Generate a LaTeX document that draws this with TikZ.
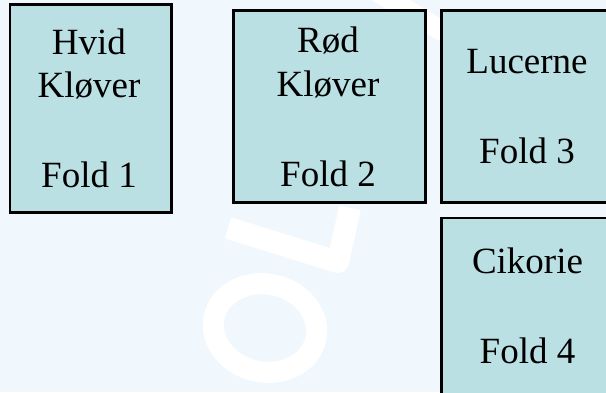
\documentclass[tikz,border=0pt]{standalone}
\usepackage{fontspec}
\setmainfont{Liberation Serif}
\definecolor{bgcol}{RGB}{240,248,253}
\definecolor{boxfill}{RGB}{187,224,227}
\tikzset{
  fieldbox/.style={draw=black, line width=2.6pt, fill=boxfill, rectangle, inner sep=0pt, anchor=north west},
  lbl/.style={anchor=base, inner sep=0pt, font=\fontsize{37}{44}\selectfont},
  wmark/.style={draw=white, line width=22pt, line cap=round, line join=round}
}
\begin{document}
\begin{tikzpicture}[x=1pt,y=-1pt]
\clip (0,0) rectangle (606,392);
\fill[bgcol] (0,0) rectangle (606,392);
% watermark
\draw[wmark, line width=21pt, rotate around={-12:(265,328)}] (265,328) ellipse [x radius=52, y radius=44];
\draw[wmark, line width=22pt, line cap=butt] (228,228) -- (338,262) -- (350,208);
\draw[wmark, line width=20pt] (378,-8) -- (440,30);
% boxes
\node[fieldbox, minimum width=161.5pt, minimum height=208pt] (b1) at (8.5,3) {};
\node[fieldbox, minimum width=192pt, minimum height=192pt] (b2) at (232,9) {};
\node[fieldbox, minimum width=174pt, minimum height=192pt] (b3) at (440,9) {};
\node[fieldbox, minimum width=174pt, minimum height=220pt] (b4) at (440,216.5) {};
% labels
\node[lbl] (t1a) at (89,54) {Hvid};
\node[lbl] (t1b) at (89,97.7) {Kløver};
\node[lbl] (t1c) at (89,187.7) {Fold 1};
\node[lbl] (t2a) at (328,52) {Rød};
\node[lbl] (t2b) at (328,96) {Kløver};
\node[lbl] (t2c) at (328,186) {Fold 2};
\node[lbl] (t3a) at (527,73) {Lucerne};
\node[lbl] (t3b) at (527,163.3) {Fold 3};
\node[lbl] (t4a) at (527.5,273) {Cikorie};
\node[lbl] (t4b) at (527.5,363) {Fold 4};
\end{tikzpicture}
\end{document}
